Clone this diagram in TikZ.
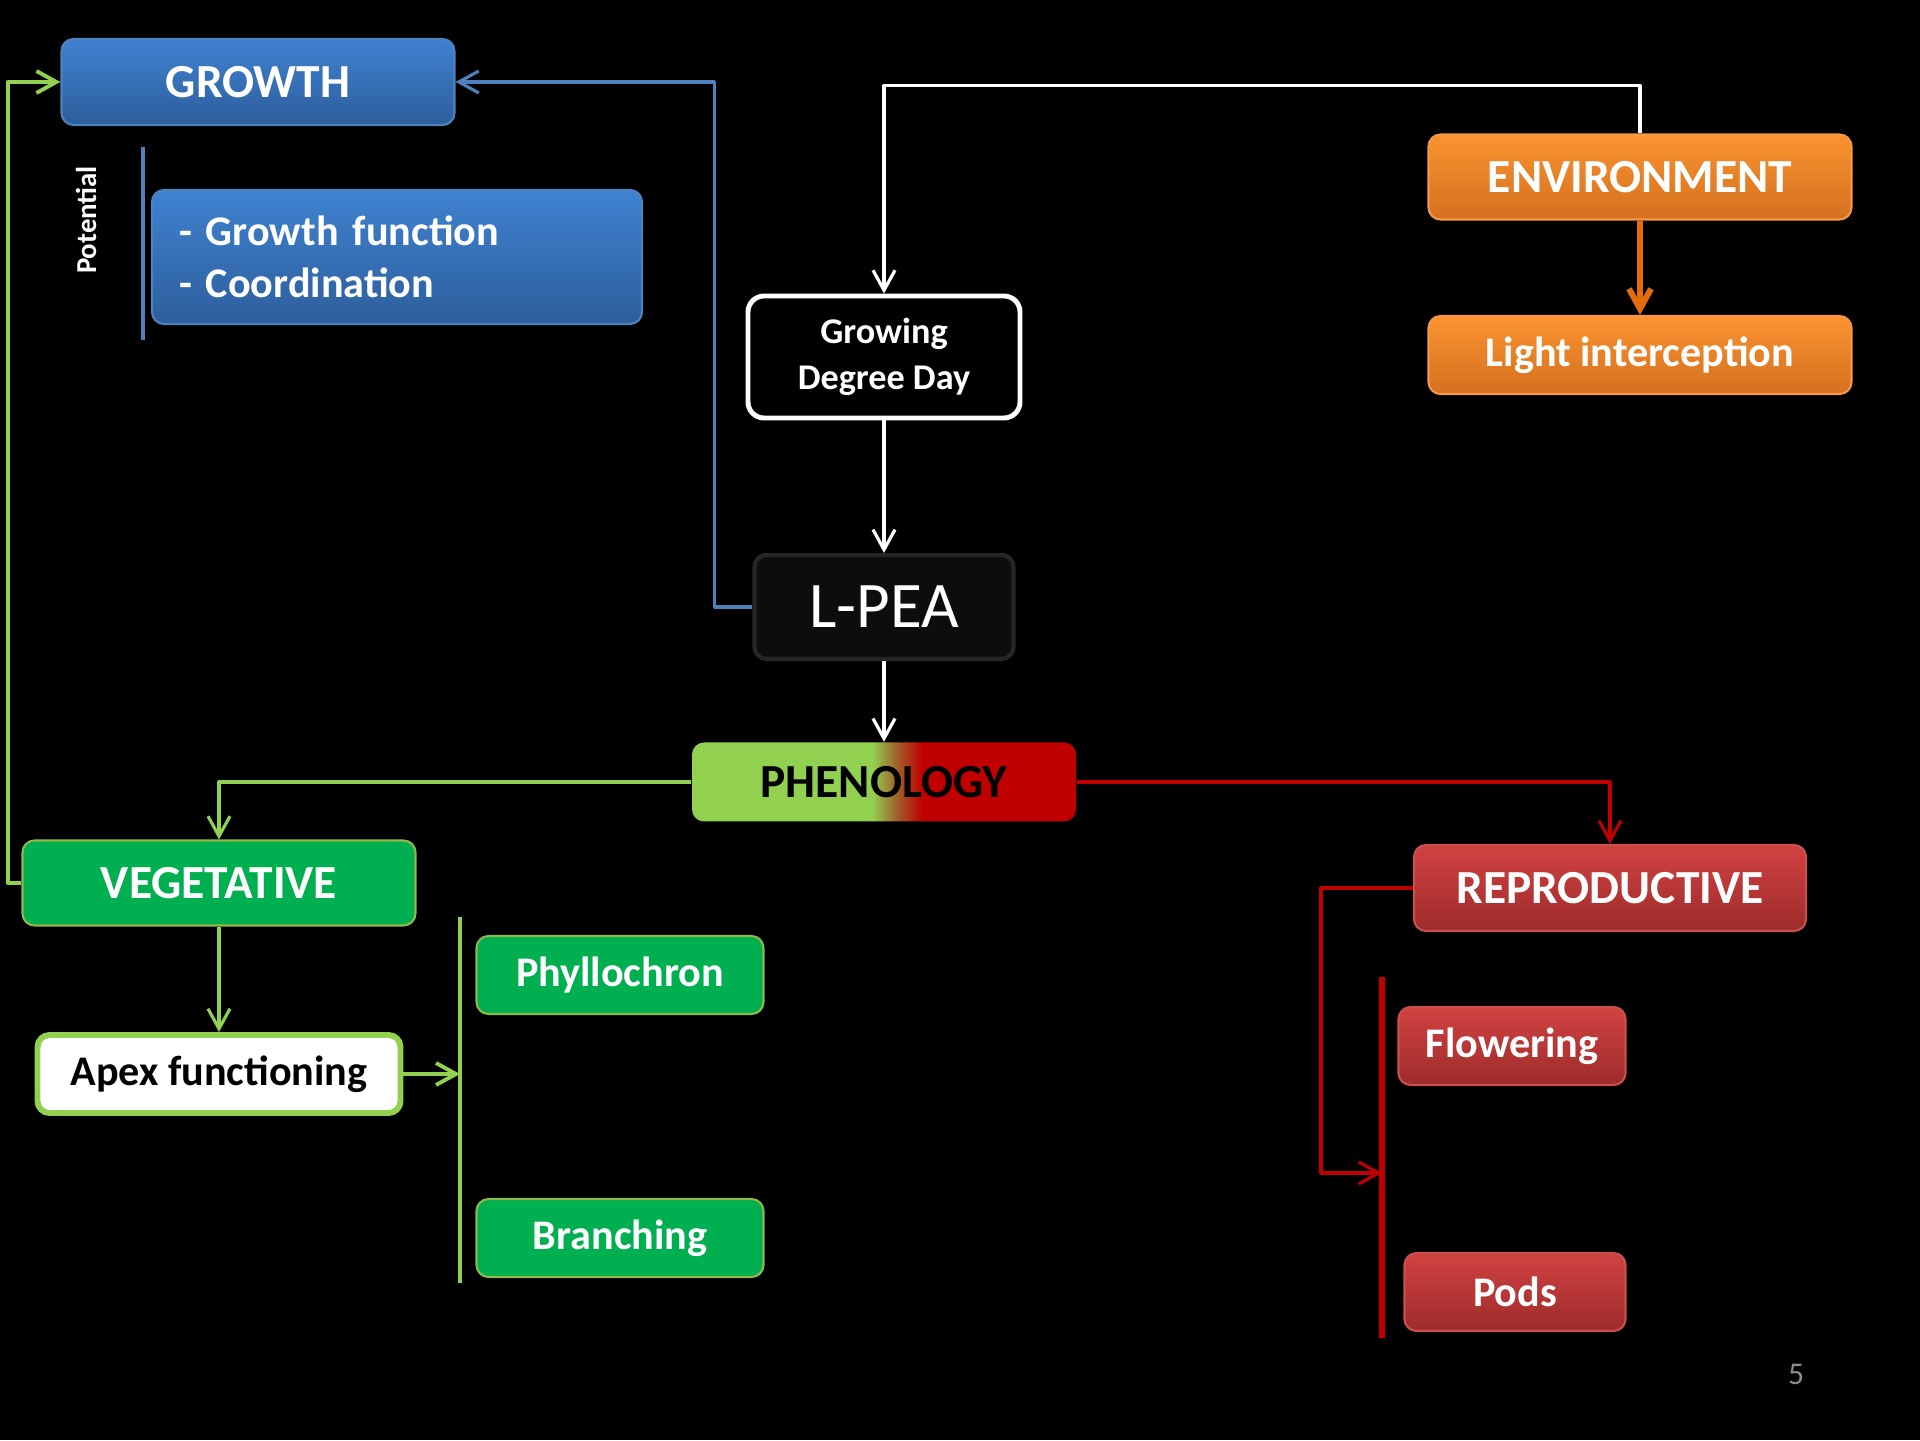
\documentclass[tikz,border=0pt]{standalone}
\usepackage{fontspec}
\setmainfont{Carlito}
\usetikzlibrary{arrows.meta}
\definecolor{bluetop}{HTML}{3F82D0}
\definecolor{bluebot}{HTML}{2D5E9C}
\definecolor{blueline}{HTML}{4F81BD}
\definecolor{orangetop}{HTML}{FA9330}
\definecolor{orangebot}{HTML}{D4701F}
\definecolor{orangeedge}{HTML}{F79646}
\definecolor{orangeline}{HTML}{E46C0A}
\definecolor{vegfill}{HTML}{00B050}
\definecolor{vegedge}{HTML}{8FB847}
\definecolor{lgreen}{HTML}{92D050}
\definecolor{redtop}{HTML}{D14242}
\definecolor{redbot}{HTML}{9E2B2B}
\definecolor{rededge}{HTML}{C9504D}
\definecolor{darkred}{HTML}{C00000}
\definecolor{brownish}{HTML}{A0642C}
\definecolor{pagegray}{HTML}{8C8C8C}
\pgfdeclarehorizontalshading{phenoshade}{100bp}{color(0bp)=(lgreen); color(48.5bp)=(lgreen); color(51.5bp)=(brownish); color(55bp)=(darkred); color(100bp)=(darkred)}

\begin{document}
\begin{tikzpicture}[>={Straight Barb[length=2mm,width=2.2mm]}, line join=round,
    box/.style={rounded corners=0.12cm, inner sep=0pt, align=center, text=white},
    bigtxt/.style={font=\bfseries\fontsize{13.5}{16}\selectfont},
    smalltxt/.style={font=\bfseries\fontsize{12}{14.7}\selectfont},
    bluebox/.style={box, top color=bluetop, bottom color=bluebot, draw=blueline, line width=0.6pt},
    orangebox/.style={box, top color=orangetop, bottom color=orangebot, draw=orangeedge, line width=0.6pt},
    greenbox/.style={box, fill=vegfill, draw=vegedge, line width=0.6pt},
    redbox/.style={box, top color=redtop, bottom color=redbot, draw=rededge, line width=0.6pt}]
    \fill[black] (0,0) rectangle (19.2,14.4);

    % growth part
    \node[bluebox, bigtxt, minimum width=3.93cm, minimum height=0.86cm] (growth) at (2.58,13.58) {GROWTH};
    \node[bluebox, smalltxt, minimum width=4.90cm, minimum height=1.34cm, text width=4.36cm, align=left] (gfun) at (3.97,11.83) {- Growth function\\- Coordination};
    \node[rotate=90, text=white, font=\bfseries\fontsize{8.2}{10}\selectfont] (pot) at (0.86,12.20) {Potential};
    \draw[blueline, line width=1.4pt] (1.43,12.93) -- (1.43,11.00);

    % environment and thermal time
    \node[orangebox, bigtxt, minimum width=4.23cm, minimum height=0.85cm] (env) at (16.40,12.63) {ENVIRONMENT};
    \node[orangebox, smalltxt, minimum width=4.23cm, minimum height=0.78cm] (light) at (16.40,10.85) {Light interception};
    \node[box, fill=black, draw=white, line width=1.4pt, rounded corners=0.16cm, font=\bfseries\fontsize{10.3}{13}\selectfont, minimum width=2.72cm, minimum height=1.22cm] (gdd) at (8.84,10.83) {Growing\\Degree Day};
    \node[box, fill=black!95, draw=black!85, line width=1.2pt, font=\fontsize{18.5}{22}\selectfont, minimum width=2.59cm, minimum height=1.04cm] (lpea) at (8.84,8.33) {L-PEA};
    \node[box, shade, shading=phenoshade, text=black, bigtxt, minimum width=3.84cm, minimum height=0.79cm] (phen) at (8.84,6.58) {PHENOLOGY};

    % vegetative side
    \node[greenbox, bigtxt, minimum width=3.93cm, minimum height=0.85cm] (veg) at (2.19,5.57) {VEGETATIVE};
    \node[box, fill=white, draw=lgreen, line width=1.7pt, text=black, smalltxt, minimum width=3.63cm, minimum height=0.78cm] (apex) at (2.19,3.66) {Apex functioning};
    \node[greenbox, smalltxt, minimum width=2.87cm, minimum height=0.78cm] (phyl) at (6.20,4.65) {Phyllochron};
    \node[greenbox, smalltxt, minimum width=2.87cm, minimum height=0.78cm] (branch) at (6.20,2.02) {Branching};
    \draw[lgreen, line width=1.4pt] (4.60,5.23) -- (4.60,1.57);
    \coordinate (gbar) at (4.60,3.66);

    % reproductive side
    \node[redbox, bigtxt, minimum width=3.92cm, minimum height=0.86cm] (rep) at (16.10,5.52) {REPRODUCTIVE};
    \node[redbox, smalltxt, minimum width=2.27cm, minimum height=0.78cm] (flow) at (15.12,3.94) {Flowering};
    \node[redbox, smalltxt, minimum width=2.21cm, minimum height=0.78cm] (pods) at (15.15,1.48) {Pods};
    \draw[darkred, line width=1.6pt] (13.82,4.63) -- (13.82,1.02);
    \coordinate (rbar) at (13.82,2.67);

    \node[text=pagegray, font=\fontsize{9}{11}\selectfont] (pnum) at (17.96,0.66) {5};

    % connectors
    \draw[blueline, line width=0.9pt, ->] (lpea.west) -- ++(-0.38,0) |- (growth.east);
    \draw[lgreen, line width=1.1pt, ->] (veg.west) -- ++(-0.135,0) |- (growth.west);
    \draw[white, line width=0.9pt, ->] (env.north) -- ++(0,0.48) -| (gdd.north);
    \draw[orangeline, line width=1.7pt, ->] (env.south) -- (light.north);
    \draw[white, line width=0.9pt, ->] (gdd.south) -- (lpea.north);
    \draw[white, line width=0.9pt, ->] (lpea.south) -- (phen.north);
    \draw[lgreen, line width=0.9pt, ->] (phen.west) -| (veg.north);
    \draw[darkred, line width=0.9pt, ->] (phen.east) -| (rep.north);
    \draw[lgreen, line width=0.9pt, ->] (veg.south) -- (apex.north);
    \draw[lgreen, line width=1.1pt, ->] (apex.east) -- (apex.east -| gbar);
    \draw[darkred, line width=0.9pt, ->] (rep.west) -- ++(-0.92,0) |- (rbar);
\end{tikzpicture}
\end{document}
